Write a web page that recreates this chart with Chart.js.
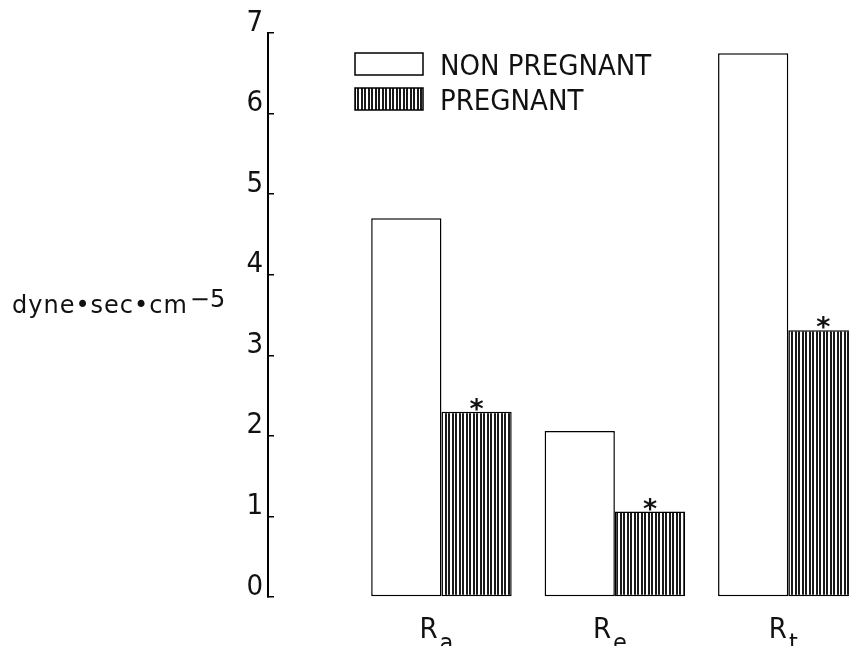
<!DOCTYPE html>
<html>
<head>
<meta charset="utf-8">
<title>Vascular resistance</title>
<script src="https://cdn.jsdelivr.net/npm/chart.js@4.4.1/dist/chart.umd.min.js"></script>
<style>
  html, body { margin: 0; padding: 0; background: #fff; }
  #wrap { width: 849px; height: 646px; position: relative; }
</style>
</head>
<body>
<div id="wrap"><canvas id="barChart"></canvas></div>
<script>
// values, dyne.sec.cm-5
var categories = ['Ra', 'Re', 'Rt'];
var nonPregnant = [4.70, 2.06, 6.75];
var pregnant = [2.30, 1.06, 3.31];
var starred = [true, true, true]; // asterisk over the pregnant bar
var yTickLabels = ['0', '1', '2', '3', '4', '5', '6', '7'];
var seriesNames = ['NON PREGNANT', 'PREGNANT'];

var narrowFont = "'Liberation Sans Narrow', 'DejaVu Sans Condensed', sans-serif";
var plainFont = "'DejaVu Sans', sans-serif";

// vertical hatching for the pregnant bars (about 3.5px period)
function makeHatch() {
    var c = document.createElement('canvas');
    c.width = 7;
    c.height = 4;
    var g = c.getContext('2d');
    g.fillStyle = '#fff';
    g.fillRect(0, 0, 7, 4);
    g.fillStyle = '#1a1a1a';
    g.fillRect(0, 0, 2, 4);
    g.fillRect(4, 0, 2, 4);
    return g.createPattern(c, 'repeat');
}
var hatch = makeHatch();

function points(values) {
    return values.map(function (v, i) { return { x: i + 1, y: v }; });
}

// legend, axis title, category labels and asterisks
var figureText = {
    id: 'figureText',
    afterDatasetsDraw: function (chart, args, opts) {
        var ctx = chart.ctx;
        var xs = chart.scales.x, ys = chart.scales.y;
        var area = chart.chartArea;
        ctx.save();
        ctx.fillStyle = '#111';
        ctx.strokeStyle = '#000';

        // asterisks
        ctx.font = 'bold 27px ' + plainFont;
        ctx.textAlign = 'center';
        ctx.textBaseline = 'alphabetic';
        chart.getDatasetMeta(1).data.forEach(function (bar, i) {
            if (starred[i]) ctx.fillText('*', bar.x, bar.y + 6);
        });

        // legend
        chart.data.datasets.forEach(function (ds, i) {
            var bx = opts.legendX, by = opts.legendY + i * opts.rowGap;
            ctx.fillStyle = ds.backgroundColor;
            ctx.fillRect(bx, by, opts.boxW, opts.boxH);
            ctx.lineWidth = 1.5;
            ctx.strokeRect(bx, by, opts.boxW, opts.boxH);
            ctx.fillStyle = '#111';
            ctx.font = '29px ' + narrowFont;
            ctx.textAlign = 'left';
            ctx.fillText(ds.label, bx + opts.boxW + 17, by + opts.boxH);
        });

        // category labels, R with subscript
        categories.forEach(function (cat, i) {
            var cx = xs.getPixelForValue(i + 1) - 5;
            var main = cat.charAt(0), sub = cat.slice(1);
            ctx.font = '29px ' + narrowFont;
            var w1 = ctx.measureText(main).width;
            ctx.font = '25px ' + narrowFont;
            var w2 = ctx.measureText(sub).width;
            var left = cx - (w1 + w2 + 2) / 2;
            ctx.textAlign = 'left';
            ctx.font = '29px ' + narrowFont;
            ctx.fillText(main, left, area.bottom + 41);
            ctx.font = '25px ' + narrowFont;
            ctx.fillText(sub, left + w1 + 2, area.bottom + 54);
        });

        // y axis title, horizontal with superscript
        var base = ys.getPixelForValue(3.5) - 2;
        ctx.font = '24px ' + plainFont;
        ctx.textAlign = 'left';
        if ('letterSpacing' in ctx) ctx.letterSpacing = '1px';
        var title = 'dyne\u2022sec\u2022cm';
        ctx.fillText(title, 12, base);
        var tw = ctx.measureText(title).width;
        ctx.font = '24px ' + plainFont;
        if ('letterSpacing' in ctx) ctx.letterSpacing = '0px';
        ctx.fillText('\u22125', 12 + tw + 2, base - 6);
        ctx.restore();
    }
};

var ctx = document.getElementById('barChart').getContext('2d');
var myChart = new Chart(ctx, {
    type: 'bar',
    data: {
        datasets: [{
            label: seriesNames[0],
            data: points(nonPregnant),
            backgroundColor: '#fff',
            borderColor: '#000',
            borderWidth: 1.5,
            borderSkipped: false,
            categoryPercentage: 0.81,
            barPercentage: 1
        }, {
            label: seriesNames[1],
            data: points(pregnant),
            backgroundColor: hatch,
            borderColor: '#000',
            borderWidth: 1.5,
            borderSkipped: false,
            categoryPercentage: 0.81,
            barPercentage: 1
        }]
    },
    options: {
        responsive: true,
        maintainAspectRatio: false,
        animation: false,
        layout: { padding: { left: 0, top: 33, right: 0, bottom: 49 } },
        plugins: {
            legend: { display: false },
            tooltip: { enabled: false },
            figureText: { legendX: 355, legendY: 53, boxW: 68, boxH: 22, rowGap: 35 }
        },
        scales: {
            x: {
                type: 'linear',
                min: 0,
                max: 3.35,
                offset: false,
                display: false,
                afterBuildTicks: function (s) {
                    s.ticks = categories.map(function (c, i) { return { value: i + 1 }; });
                }
            },
            y: {
                min: 0,
                max: 7,
                afterFit: function (s) { s.width = 268; },
                border: { display: true, color: '#000', width: 2 },
                grid: { drawOnChartArea: false, drawTicks: true, tickLength: -6, color: '#000', lineWidth: 1.5 },
                ticks: {
                    stepSize: 1,
                    padding: 11,
                    labelOffset: -10,
                    color: '#111',
                    font: { family: narrowFont, size: 29 },
                    callback: function (v, i) { return yTickLabels[i]; }
                }
            }
        }
    },
    plugins: [figureText]
});
</script>
</body>
</html>
